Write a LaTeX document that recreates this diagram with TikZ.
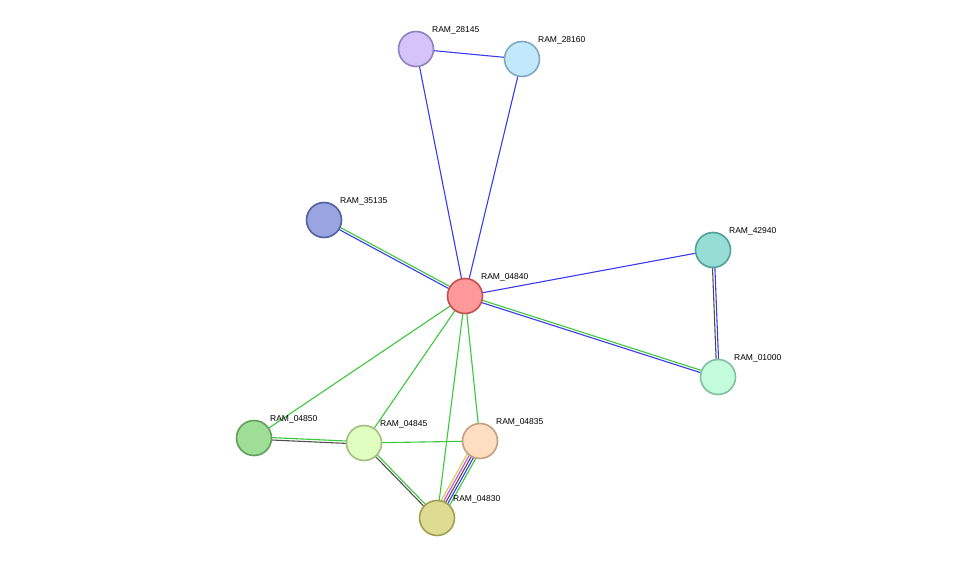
\documentclass[tikz,border=0pt]{standalone}
\usepackage{fontspec}
\setmainfont{Liberation Sans}
\usetikzlibrary{calc,backgrounds}

\definecolor{evblue}{HTML}{3A3AF0}
\definecolor{evgreen}{HTML}{3CC83C}
\definecolor{evdark}{HTML}{505050}
\definecolor{evpink}{HTML}{E040E0}
\definecolor{evyellow}{HTML}{C8D240}

\tikzset{
    prot/.style={circle, line width=1.6pt, minimum size=35pt, inner sep=0pt},
    lbl/.style={anchor=south west, font=\fontsize{8.5}{10}\selectfont, inner sep=0pt, xshift=3pt, yshift=2pt},
    link/.style={line width=1.1pt}
}
% edge between two proteins, shifted sideways by #3
\newcommand{\evline}[4]{%
    \draw[link, #4] ($(#1.center)!#3!90:(#2.center)$) -- ($(#2.center)!#3!-90:(#1.center)$);
}

\begin{document}
\begin{tikzpicture}[x=1pt, y=-1pt]
    \useasboundingbox (0,0) rectangle (976,564);
    % Proteins
    \node[prot, fill={rgb,255:red,255;green,153;blue,153}, draw={rgb,255:red,192;green,80;blue,80}] (p04840) at (465,296) {};
    \node[prot, fill={rgb,255:red,212;green,196;blue,250}, draw={rgb,255:red,144;green,128;blue,192}] (p28145) at (416,49) {};
    \node[prot, fill={rgb,255:red,194;green,232;blue,251}, draw={rgb,255:red,128;green,168;blue,192}] (p28160) at (522,59) {};
    \node[prot, fill={rgb,255:red,154;green,165;blue,224}, draw={rgb,255:red,80;green,96;blue,160}] (p35135) at (324,220) {};
    \node[prot, fill={rgb,255:red,150;green,222;blue,213}, draw={rgb,255:red,80;green,160;blue,152}] (p42940) at (713,250) {};
    \node[prot, fill={rgb,255:red,194;green,252;blue,221}, draw={rgb,255:red,128;green,192;blue,160}] (p01000) at (718,377) {};
    \node[prot, fill={rgb,255:red,158;green,222;blue,150}, draw={rgb,255:red,96;green,160;blue,88}] (p04850) at (254,438) {};
    \node[prot, fill={rgb,255:red,223;green,254;blue,191}, draw={rgb,255:red,160;green,192;blue,128}] (p04845) at (364,443) {};
    \node[prot, fill={rgb,255:red,254;green,221;blue,192}, draw={rgb,255:red,192;green,160;blue,128}] (p04835) at (480,441) {};
    \node[prot, fill={rgb,255:red,222;green,219;blue,147}, draw={rgb,255:red,160;green,160;blue,80}] (p04830) at (437,518) {};

    % Labels
    \foreach \p in {04840,28145,28160,35135,42940,01000,04850,04845,04835,04830}
        \node[lbl] (l\p) at (p\p.north east) {RAM\_\p};

    % Links
    \begin{scope}[on background layer]
        \evline{p04840}{p28145}{0pt}{evblue}
        \evline{p04840}{p28160}{0pt}{evblue}
        \evline{p28145}{p28160}{0pt}{evblue}
        \evline{p04840}{p42940}{0pt}{evblue}
        \evline{p04840}{p35135}{1.2pt}{evblue}
        \evline{p04840}{p35135}{-1.2pt}{evgreen}
        \evline{p04840}{p01000}{-1.2pt}{evblue}
        \evline{p04840}{p01000}{1.2pt}{evgreen}
        \evline{p42940}{p01000}{1.2pt}{evblue}
        \evline{p42940}{p01000}{-1.2pt}{evdark}
        \evline{p04840}{p04850}{0pt}{evgreen}
        \evline{p04840}{p04845}{0pt}{evgreen}
        \evline{p04840}{p04830}{0pt}{evgreen}
        \evline{p04840}{p04835}{0pt}{evgreen}
        \evline{p04845}{p04835}{0pt}{evgreen}
        \evline{p04850}{p04845}{-1.2pt}{evdark}
        \evline{p04850}{p04845}{1.2pt}{evgreen}
        \evline{p04845}{p04830}{-1.2pt}{evdark}
        \evline{p04845}{p04830}{1.2pt}{evgreen}
        \foreach \o/\c in {-4.8pt/evgreen,-2.4pt/evblue,0pt/evdark,2.4pt/evpink,4.8pt/evyellow}{
            \evline{p04830}{p04835}{\o}{\c}
        }
    \end{scope}
\end{tikzpicture}
\end{document}
